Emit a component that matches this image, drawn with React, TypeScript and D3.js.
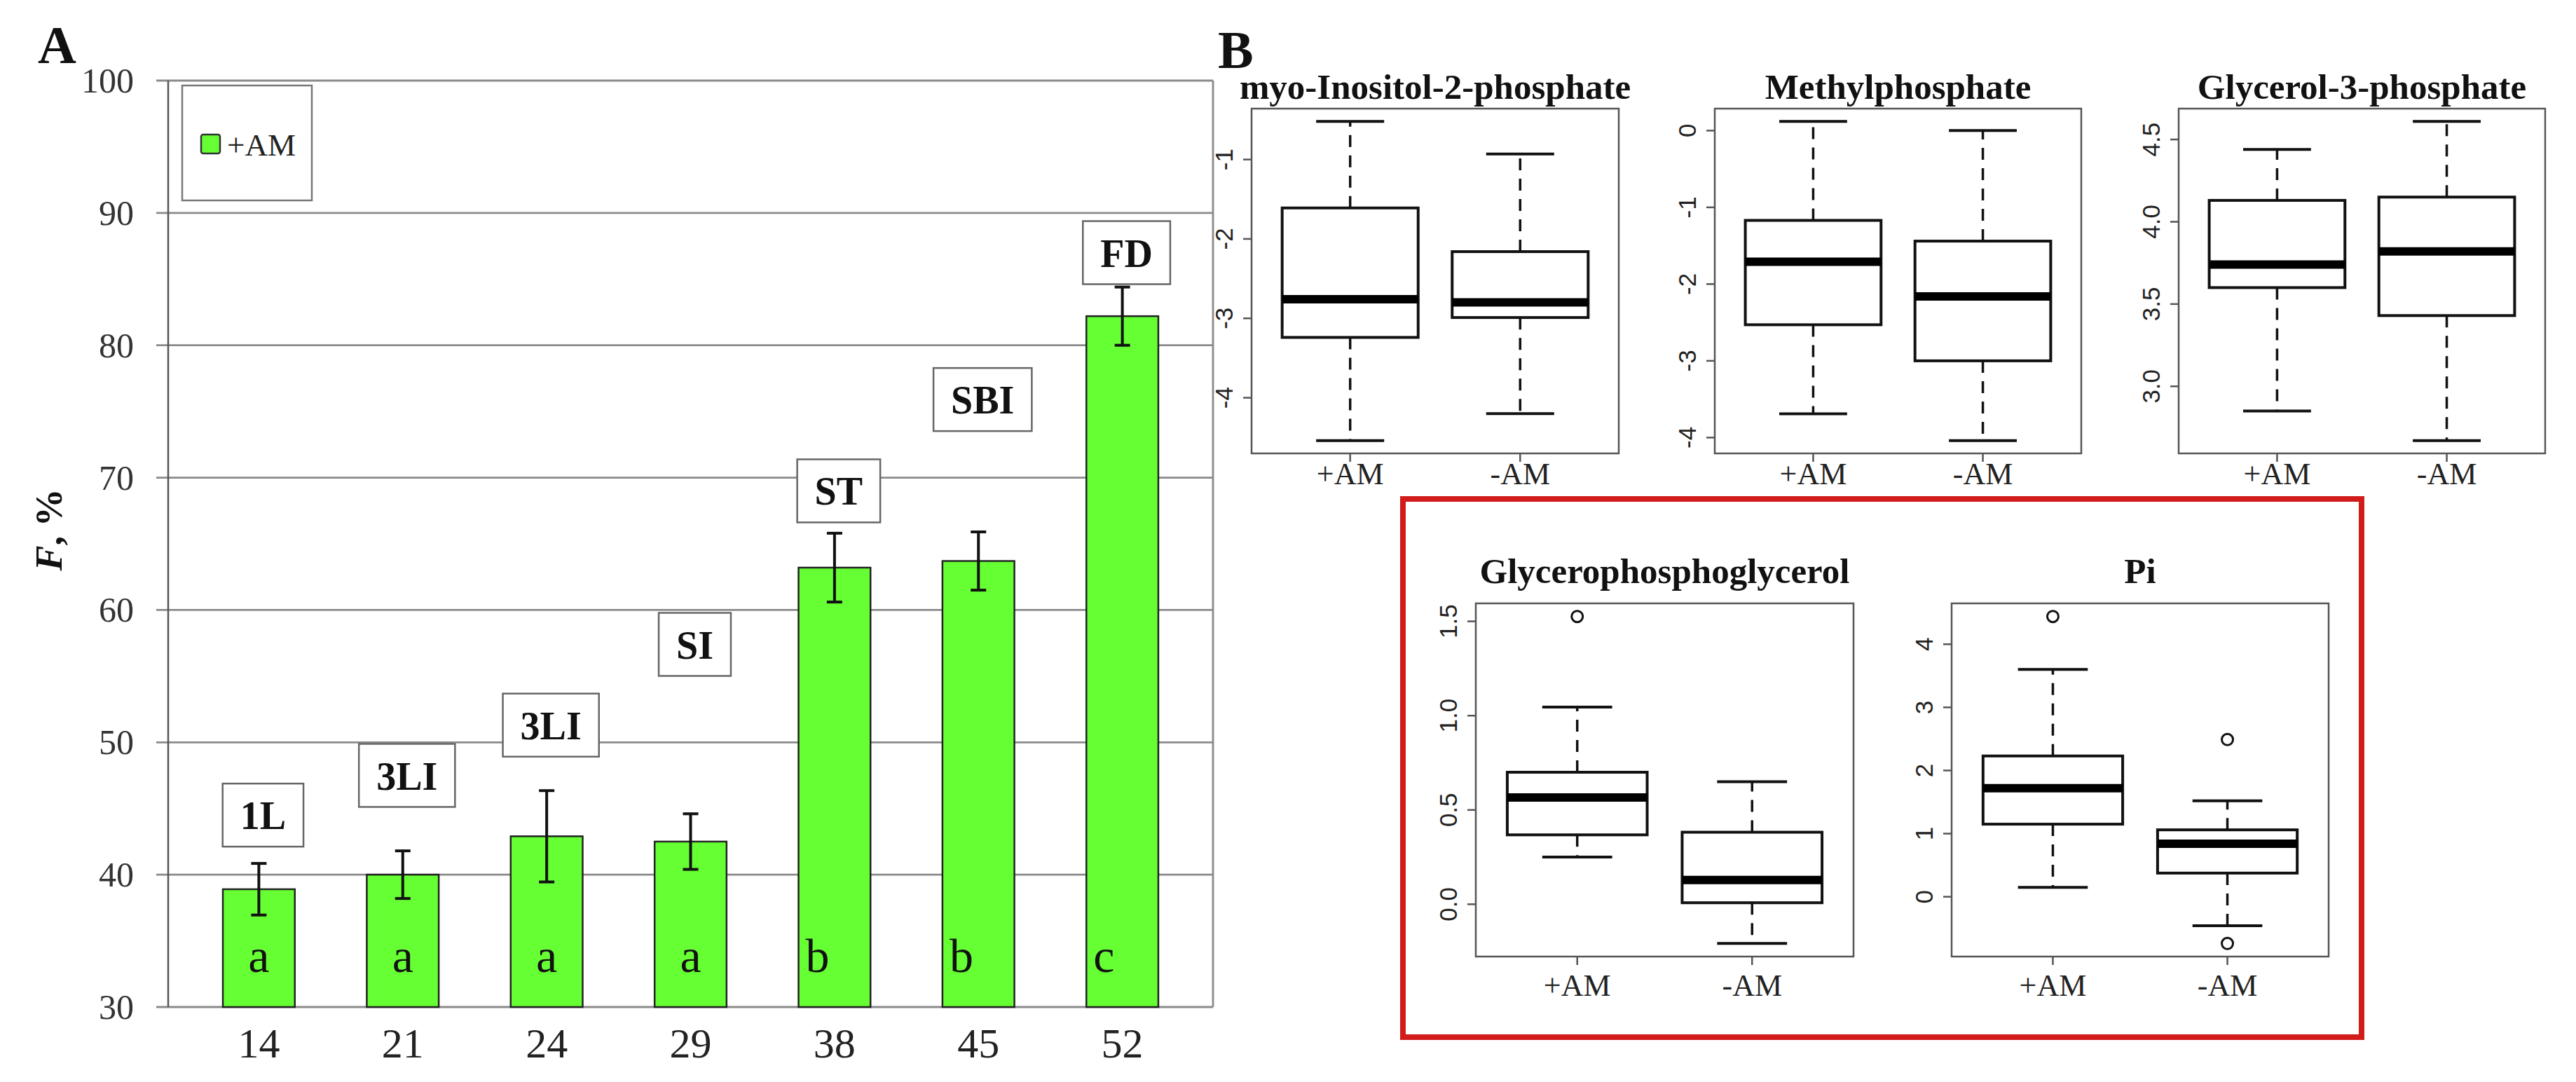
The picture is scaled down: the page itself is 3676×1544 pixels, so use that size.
import React from 'react';
import * as d3 from 'd3';

const W = 3676;
const H = 1544;
const SERIF = '"Liberation Serif", "Times New Roman", serif';
const SANS = '"Liberation Sans", Arial, sans-serif';

// ---- Panel A: F, % by day after sowing
const days = ['14', '21', '24', '29', '38', '45', '52'];
const fMean = [38.9, 40.0, 42.9, 42.5, 63.2, 63.7, 82.2];
const fErr = [1.95, 1.8, 3.45, 2.1, 2.6, 2.2, 2.2];
const sigLetters = ['a', 'a', 'a', 'a', 'b', 'b', 'c'];
const stages = ['1L', '3LI', '3LI', 'SI', 'ST', 'SBI', 'FD'];
const stageLevel = [44.5, 47.5, 51.3, 57.4, 69.0, 75.9, 87.0];
const fTicks = [30, 40, 50, 60, 70, 80, 90, 100];

// ---- Panel B: boxplots, each group = [lower whisker, Q1, median, Q3, upper whisker]
const groups = ['+AM', '-AM'];
const titles = [
  'myo-Inositol-2-phosphate',
  'Methylphosphate',
  'Glycerol-3-phosphate',
  'Glycerophosphoglycerol',
  'Pi',
];
const myoStats = [[-4.54, -3.24, -2.76, -1.61, -0.52], [-4.2, -2.99, -2.8, -2.16, -0.93]];
const methylStats = [[-3.69, -2.53, -1.71, -1.17, 0.12], [-4.04, -3.0, -2.16, -1.44, 0.0]];
const g3pStats = [[2.85, 3.6, 3.74, 4.13, 4.44], [2.67, 3.43, 3.82, 4.15, 4.61]];
const gpgStats = [[0.25, 0.368, 0.566, 0.7, 1.045], [-0.208, 0.008, 0.129, 0.382, 0.65]];
const piStats = [[0.15, 1.15, 1.72, 2.23, 3.6], [-0.46, 0.375, 0.84, 1.06, 1.52]];
const noOutliers: number[][] = [[], []];
const gpgOutliers = [[1.526], []];
const piOutliers = [[4.44], [2.49, -0.74]];
const myoTicks = [-4, -3, -2, -1];
const methylTicks = [-4, -3, -2, -1, 0];
const g3pTicks = [3.0, 3.5, 4.0, 4.5];
const gpgTicks = [0, 0.5, 1.0, 1.5];
const piTicks = [0, 1, 2, 3, 4];

const GREEN = '#66ff33';

let ctx: CanvasRenderingContext2D | null = null;
const textWidth = (txt: string, font: string) => {
  if (!ctx) ctx = document.createElement('canvas').getContext('2d');
  if (!ctx) return txt.length * 30;
  ctx.font = font;
  return ctx.measureText(txt).width;
};

interface BoxPanelProps {
  x0: number;
  y0: number;
  w: number;
  h: number;
  title: string;
  titleGap: number;
  labelGap: number;
  stats: number[][];
  outs: number[][];
  ticks: number[];
  digits: number;
}

const BoxPanel: React.FC<BoxPanelProps> = ({ x0, y0, w, h, title, titleGap, labelGap, stats, outs, ticks, digits }) => {
  // R pads the data range by 4% on each side
  const vals = [...stats.flat(), ...outs.flat()];
  const [lo, hi] = d3.extent(vals) as [number, number];
  const pad = (hi - lo) * 0.04;
  const y = d3.scaleLinear().domain([lo - pad, hi + pad]).range([y0 + h, y0]);
  const x = d3.scaleLinear().domain([0.42, 2.58]).range([x0, x0 + w]);
  const half = x(1.4) - x(1);
  const cap = x(1.2) - x(1);

  return (
    <g>
      <text x={x0 + w / 2} y={y0 - titleGap} textAnchor="middle" fontFamily={SERIF} fontWeight="bold" fontSize={51} fill="#111">
        {title}
      </text>
      <rect x={x0} y={y0} width={w} height={h} fill="none" stroke="#555" strokeWidth={2.5} />
      {ticks.map((t) => (
        <g key={t}>
          <line x1={x0 - 12} x2={x0} y1={y(t)} y2={y(t)} stroke="#555" strokeWidth={2.5} />
          <text
            transform={`translate(${x0 - 27},${y(t)}) rotate(-90)`}
            textAnchor="middle"
            fontFamily={SANS}
            fontSize={35}
            fill="#222"
          >
            {t.toFixed(digits)}
          </text>
        </g>
      ))}
      {groups.map((g, i) => {
        const cx = x(i + 1);
        const [wl, q1, md, q3, wh] = stats[i];
        return (
          <g key={g}>
            <line x1={cx} x2={cx} y1={y0 + h} y2={y0 + h + 12} stroke="#555" strokeWidth={2.5} />
            <text x={cx} y={y0 + h + labelGap} textAnchor="middle" fontFamily={SERIF} fontSize={44} fill="#222">
              {g}
            </text>
            <line x1={cx} x2={cx} y1={y(q3)} y2={y(wh)} stroke="#111" strokeWidth={3.5} strokeDasharray="17 12" />
            <line x1={cx} x2={cx} y1={y(q1)} y2={y(wl)} stroke="#111" strokeWidth={3.5} strokeDasharray="17 12" />
            <line x1={cx - cap} x2={cx + cap} y1={y(wh)} y2={y(wh)} stroke="#111" strokeWidth={4} />
            <line x1={cx - cap} x2={cx + cap} y1={y(wl)} y2={y(wl)} stroke="#111" strokeWidth={4} />
            <rect x={cx - half} y={y(q3)} width={half * 2} height={y(q1) - y(q3)} fill="#fff" stroke="#111" strokeWidth={4} />
            <line x1={cx - half} x2={cx + half} y1={y(md)} y2={y(md)} stroke="#000" strokeWidth={12} />
            {outs[i].map((o, k) => (
              <circle key={k} cx={cx} cy={y(o)} r={8} fill="none" stroke="#111" strokeWidth={3} />
            ))}
          </g>
        );
      })}
    </g>
  );
};

export default function App() {
  const left = 240;
  const right = 1731;
  const yA = d3.scaleLinear().domain([30, 100]).range([1437, 115]);
  const xA = d3.scaleBand().domain(days).range([left, right]).paddingInner(0.5).paddingOuter(0.38);
  const bw = xA.bandwidth();
  const stageFont = `bold 56px ${SERIF}`;

  return (
    <svg width={W} height={H} style={{ position: 'absolute', left: 0, top: 0, display: 'block' }}>
      <rect x={0} y={0} width={W} height={H} fill="#fff" />

      {/* Panel A */}
      <text x={54} y={90} fontFamily={SERIF} fontWeight="bold" fontSize={76} fill="#111">A</text>
      {fTicks.map((t) => (
        <g key={t}>
          <line x1={223} x2={right} y1={yA(t)} y2={yA(t)} stroke="#8a8a8a" strokeWidth={2.8} />
          <text x={191} y={yA(t) + 17} textAnchor="end" fontFamily={SERIF} fontSize={50} fill="#333">
            {t}
          </text>
        </g>
      ))}
      <line x1={right} x2={right} y1={yA(100)} y2={yA(30)} stroke="#8a8a8a" strokeWidth={2.8} />
      <line x1={left} x2={left} y1={yA(100)} y2={yA(30)} stroke="#555" strokeWidth={2.5} />
      <text transform="translate(88,756) rotate(-90)" textAnchor="middle" fontFamily={SERIF} fontWeight="bold" fontSize={54} fill="#111">
        <tspan fontStyle="italic">F</tspan>, %
      </text>

      {/* legend */}
      <rect x={260} y={122} width={185} height={164} fill="#fff" stroke="#777" strokeWidth={2.5} />
      <rect x={287} y={192} width={27} height={27} rx={3} fill={GREEN} stroke="#333" strokeWidth={2.5} />
      <text x={324} y={222} fontFamily={SERIF} fontSize={45} fill="#222">+AM</text>

      {days.map((d, i) => {
        const x0 = xA(d) as number;
        const cx = x0 + bw / 2;
        const top = yA(fMean[i]);
        const tw = textWidth(stages[i], stageFont);
        const boxW = tw + 50;
        const sy = yA(stageLevel[i]);
        return (
          <g key={d + i}>
            <rect x={x0} y={top} width={bw} height={yA(30) - top} fill={GREEN} stroke="#222" strokeWidth={2.5} />
            <line x1={cx} x2={cx} y1={yA(fMean[i] + fErr[i])} y2={yA(fMean[i] - fErr[i])} stroke="#111" strokeWidth={4} />
            <line x1={cx - 11} x2={cx + 11} y1={yA(fMean[i] + fErr[i])} y2={yA(fMean[i] + fErr[i])} stroke="#111" strokeWidth={4} />
            <line x1={cx - 11} x2={cx + 11} y1={yA(fMean[i] - fErr[i])} y2={yA(fMean[i] - fErr[i])} stroke="#111" strokeWidth={4} />
            <text
              x={i < 4 ? cx : x0 + 10}
              y={1387}
              textAnchor={i < 4 ? 'middle' : 'start'}
              fontFamily={SERIF}
              fontSize={68}
              fill="#111"
            >
              {sigLetters[i]}
            </text>
            <text x={cx} y={1509} textAnchor="middle" fontFamily={SERIF} fontSize={60} fill="#222">
              {d}
            </text>
            <rect x={cx + 6 - boxW / 2} y={sy - 45} width={boxW} height={90} fill="#fff" stroke="#666" strokeWidth={2.5} />
            <text x={cx + 6} y={sy + 20} textAnchor="middle" fontFamily={SERIF} fontWeight="bold" fontSize={56} fill="#111">
              {stages[i]}
            </text>
          </g>
        );
      })}

      {/* Panel B */}
      <text x={1738} y={97} fontFamily={SERIF} fontWeight="bold" fontSize={76} fill="#111">B</text>
      <BoxPanel x0={1786} y0={155} w={524} h={492} title={titles[0]} titleGap={14} labelGap={44} stats={myoStats} outs={noOutliers} ticks={myoTicks} digits={0} />
      <BoxPanel x0={2447} y0={155} w={523} h={492} title={titles[1]} titleGap={14} labelGap={44} stats={methylStats} outs={noOutliers} ticks={methylTicks} digits={0} />
      <BoxPanel x0={3109} y0={155} w={523} h={492} title={titles[2]} titleGap={14} labelGap={44} stats={g3pStats} outs={noOutliers} ticks={g3pTicks} digits={1} />
      <rect x={2002} y={712} width={1368} height={768} fill="none" stroke="#d21c1c" strokeWidth={8} />
      <BoxPanel x0={2106} y0={861} w={539} h={504} title={titles[3]} titleGap={29} labelGap={56} stats={gpgStats} outs={gpgOutliers} ticks={gpgTicks} digits={1} />
      <BoxPanel x0={2785} y0={861} w={538} h={504} title={titles[4]} titleGap={29} labelGap={56} stats={piStats} outs={piOutliers} ticks={piTicks} digits={0} />
    </svg>
  );
}
